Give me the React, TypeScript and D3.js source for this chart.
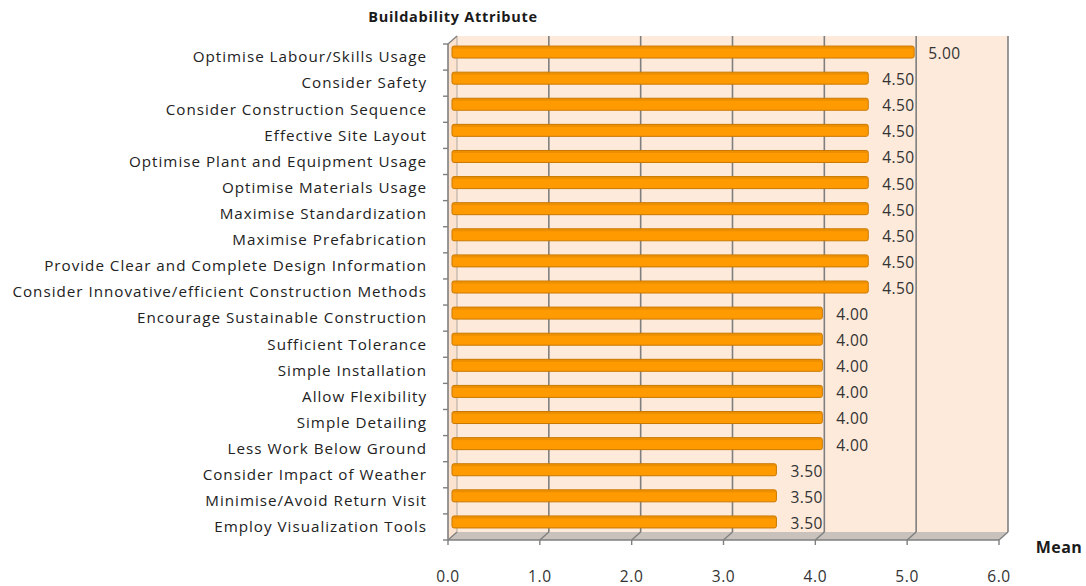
import React from "react";
import * as d3 from "d3";

const categories = [
  "Optimise Labour/Skills Usage",
  "Consider Safety",
  "Consider Construction Sequence",
  "Effective Site Layout",
  "Optimise Plant and Equipment Usage",
  "Optimise Materials Usage",
  "Maximise Standardization",
  "Maximise Prefabrication",
  "Provide Clear and Complete Design Information",
  "Consider Innovative/efficient Construction Methods",
  "Encourage Sustainable Construction",
  "Sufficient Tolerance",
  "Simple Installation",
  "Allow Flexibility",
  "Simple Detailing",
  "Less Work Below Ground",
  "Consider Impact of Weather",
  "Minimise/Avoid Return Visit",
  "Employ Visualization Tools",
];
const values = [5.0, 4.5, 4.5, 4.5, 4.5, 4.5, 4.5, 4.5, 4.5, 4.5, 4.0, 4.0, 4.0, 4.0, 4.0, 4.0, 3.5, 3.5, 3.5];
const xTicks = [0, 1, 2, 3, 4, 5, 6];

export default function App() {
  const W = 1086, H = 586;
  const left = 448, right = 999, top = 44, bottom = 540;
  const dx = 9, dy = -8;
  const x = d3.scaleLinear().domain([0, 6]).range([left, right]);
  const y = d3.scaleBand().domain(categories).range([top, bottom]);
  const font = "'Open Sans', 'Noto Sans', sans-serif";
  const grid = "#7f7f7f";

  return (
    <svg width={W} height={H} style={{ position: "absolute", left: 0, top: 0 }}>
      <rect x={0} y={0} width={W} height={H} fill="#fff" />
      {/* back wall */}
      <rect x={left + dx} y={top + dy} width={right - left} height={bottom - top} fill="#FDEADB" />
      {/* side wall */}
      <polygon points={`${left},${top} ${left + dx},${top + dy} ${left + dx},${bottom + dy} ${left},${bottom}`} fill="#FBE3CF" />
      {/* floor */}
      <polygon points={`${left},${bottom} ${left + dx},${bottom + dy} ${right + dx},${bottom + dy} ${right},${bottom}`} fill="#C9C2BC" />
      {/* gridlines */}
      {xTicks.map((t) => (
        <g key={t}>
          {t > 0 && (
            <line x1={x(t) + dx} x2={x(t) + dx} y1={top + dy} y2={bottom + dy} stroke={grid} strokeWidth={1.6} />
          )}
          <line x1={x(t)} y1={bottom} x2={x(t) + dx} y2={bottom + dy} stroke={grid} strokeWidth={1.4} />
        </g>
      ))}
      <line x1={left + dx} x2={left + dx} y1={top + dy} y2={bottom + dy} stroke="#b0a79f" strokeWidth={1} />
      <line x1={left} y1={top} x2={left + dx} y2={top + dy} stroke={grid} strokeWidth={1.4} />
      {/* bars */}
      {categories.map((c, i) => {
        const cy = (y(c) as number) + y.bandwidth() / 2 - 5;
        const x0 = x(0) + 4;
        const x1 = x(values[i]) + 7;
        return (
          <g key={c}>
            <rect x={x0} y={cy - 6} width={x1 - x0} height={12} rx={2} fill="#FF9A00" stroke="#C97800" strokeWidth={1} />
            <rect x={x0 + 1} y={cy - 5.5} width={x1 - x0 - 2} height={2} fill="#D98300" opacity={0.5} />
            <text x={x1 + 14} y={cy + 1.5} dy="0.35em" fontFamily={font} fontSize={15.5} fill="#333" letterSpacing={0.4}>
              {values[i].toFixed(2)}
            </text>
          </g>
        );
      })}
      {/* left axis */}
      <line x1={left} x2={left} y1={top} y2={bottom} stroke={grid} strokeWidth={1.6} />
      {categories.map((c) => (
        <line key={c} x1={left - 5} x2={left} y1={y(c) as number} y2={y(c) as number} stroke={grid} strokeWidth={1.4} />
      ))}
      <line x1={left - 5} x2={left} y1={bottom} y2={bottom} stroke={grid} strokeWidth={1.4} />
      {/* bottom axis */}
      <line x1={left} x2={right} y1={bottom} y2={bottom} stroke={grid} strokeWidth={1.6} />
      {xTicks.map((t) => (
        <g key={t}>
          <line x1={x(t)} x2={x(t)} y1={bottom} y2={bottom + 5} stroke={grid} strokeWidth={1.4} />
          <text x={x(t)} y={577} textAnchor="middle" dy="0.35em" fontFamily={font} fontSize={15.5} fill="#333" letterSpacing={0.6}>
            {t.toFixed(1)}
          </text>
        </g>
      ))}
      {/* category labels */}
      {categories.map((c) => (
        <text key={c} x={427} y={(y(c) as number) + y.bandwidth() / 2} dy="0.35em" textAnchor="end" fontFamily={font} fontSize={15.2} fill="#222" letterSpacing={1}>
          {c}
        </text>
      ))}
      <text x={453} y={17} dy="0.35em" textAnchor="middle" fontFamily={font} fontSize={14.5} fontWeight="bold" fill="#1a1a1a" letterSpacing={0.7}>
        Buildability Attribute
      </text>
      <text x={1059} y={547} dy="0.35em" textAnchor="middle" fontFamily={font} fontSize={16} fontWeight="bold" fill="#1a1a1a" letterSpacing={0.5}>
        Mean
      </text>
    </svg>
  );
}
